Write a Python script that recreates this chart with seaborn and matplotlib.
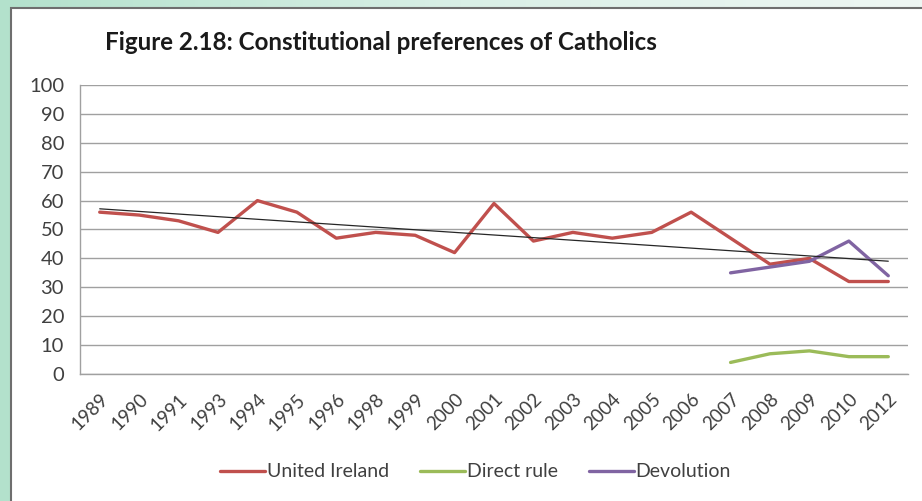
import numpy as np
import pandas as pd
import matplotlib
matplotlib.use("Agg")
import matplotlib.pyplot as plt
import seaborn as sns
from matplotlib.patches import Rectangle

# Data
years = ['1989', '1990', '1991', '1993', '1994', '1995', '1996', '1998', '1999', '2000',
         '2001', '2002', '2003', '2004', '2005', '2006', '2007', '2008', '2009', '2010', '2012']
united_ireland = [56, 55, 53, 49, 60, 56, 47, 49, 48, 42,
                  59, 46, 49, 47, 49, 56, 47, 38, 40, 32, 32]
direct_rule_years = ['2007', '2008', '2009', '2010', '2012']
direct_rule = [4, 7, 8, 6, 6]
devolution_years = ['2007', '2008', '2009', '2010', '2012']
devolution = [35, 37, 39, 46, 34]

series_names = ['United Ireland', 'Direct rule', 'Devolution']
colors = ['#c0504d', '#9bbb59', '#8064a2']

# Long-format table for seaborn
pos = {y: i for i, y in enumerate(years)}
rows = []
for y, v in zip(years, united_ireland):
    rows.append((pos[y], v, 'United Ireland'))
for y, v in zip(direct_rule_years, direct_rule):
    rows.append((pos[y], v, 'Direct rule'))
for y, v in zip(devolution_years, devolution):
    rows.append((pos[y], v, 'Devolution'))
df = pd.DataFrame(rows, columns=['x', 'value', 'series'])

sns.set_theme(style='white')
plt.rcParams['font.family'] = ['Lato', 'DejaVu Sans']

fig = plt.figure(figsize=(9.22, 5.01), dpi=100)
fig.patch.set_facecolor('#c2e7d6')

# soft background gradient behind the chart panel
bg = fig.add_axes([0, 0, 1, 1], zorder=-20)
grad = np.linspace(0, 1, 256)[None, :]
bg.imshow(grad, aspect='auto', cmap=sns.blend_palette(['#b3e1cc', '#d9efe6', '#eef6f3'], as_cmap=True),
          extent=[0, 1, 0, 1])
bg.set_axis_off()

# white chart panel with grey frame on left/top
panel = Rectangle((11 / 922, -0.01), 1.0, 1.01 - 8 / 501, transform=fig.transFigure,
                  facecolor='white', edgecolor='#6e6e6e', linewidth=1.5, zorder=-10)
fig.patches.append(panel)

ax = fig.add_axes([80 / 922, 1 - 374 / 501, 828 / 922, 289 / 501])
ax.set_facecolor('none')

sns.lineplot(data=df, x='x', y='value', hue='series', hue_order=series_names,
             palette=colors, linewidth=2.4, ax=ax, legend=True, zorder=3)

# linear trend line of United Ireland (Excel-style)
xi = np.arange(len(years))
slope, intercept = np.polyfit(xi, united_ireland, 1)
ax.plot(xi, slope * xi + intercept, color='#262626', linewidth=0.9, zorder=4)

ax.set_xlim(-0.5, len(years) - 0.5)
ax.set_ylim(0, 100)
ax.set_yticks(range(0, 101, 10))
ax.set_xticks(xi)
ax.set_xticklabels(years, rotation=45, ha='right', rotation_mode='anchor')
ax.set_xticks(np.arange(-0.5, len(years), 1.0), minor=True)
ax.tick_params(axis='x', which='major', length=0, labelsize=13.5, colors='#404040', pad=12)
ax.tick_params(axis='x', which='minor', length=5, color='#a0a0a0', width=1, direction='out')
ax.tick_params(axis='y', length=5, color='#a0a0a0', width=1, direction='out',
               labelsize=14.5, colors='#404040', pad=6.5)
ax.yaxis.grid(True, color='#a0a0a0', linewidth=1)
ax.set_axisbelow(True)
for side in ['top', 'right']:
    ax.spines[side].set_visible(False)
for side in ['left', 'bottom']:
    ax.spines[side].set_color('#a0a0a0')
    ax.spines[side].set_linewidth(1)
ax.set_xlabel('')
ax.set_ylabel('')

handles, labels = ax.get_legend_handles_labels()
ax.legend_.remove()
fig.legend(handles, labels, loc='center', bbox_to_anchor=(0.516, 0.058), ncol=3,
           frameon=False, fontsize=14, handlelength=2.3, handletextpad=0.1,
           columnspacing=1.6, labelcolor='#404040')

fig.text(105 / 922, 1 - 42 / 501, 'Figure 2.18: Constitutional preferences of Catholics',
         fontsize=17.4, fontweight='bold', color='#1a1a1a', va='center', ha='left')

fig.savefig('out.png', dpi=100, facecolor=fig.get_facecolor())
